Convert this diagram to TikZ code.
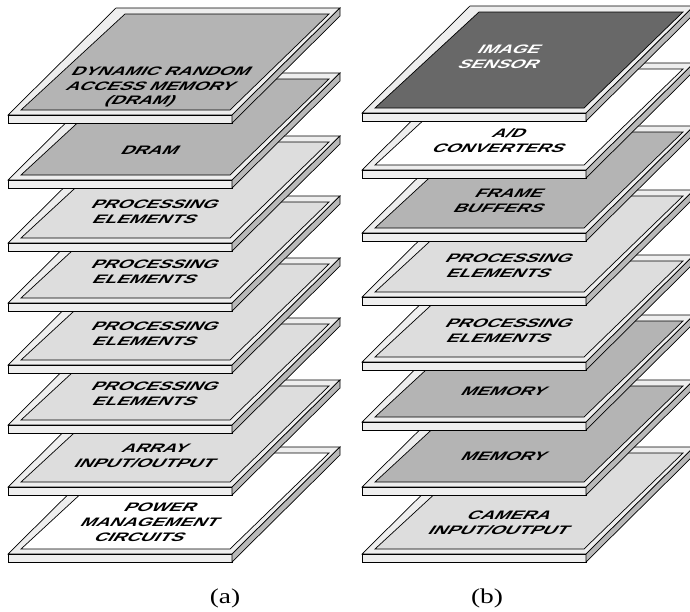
\documentclass[tikz,border=0pt]{standalone}
\usepackage{fontspec}
\usepackage{tikz}
\usepackage{xcolor}
\usetikzlibrary{positioning, calc}
\setmainfont{Liberation Serif}
\newfontfamily\platefont{Liberation Sans}
\definecolor{rimgray}{RGB}{238,238,238}
\definecolor{sidegray}{RGB}{185,185,185}
\definecolor{memgray}{RGB}{180,180,180}
\definecolor{pegray}{RGB}{221,221,221}
\definecolor{sensorgray}{RGB}{104,104,104}

\tikzset{
  platetext/.style={font=\platefont\bfseries\fontsize{14}{17}\selectfont,
    align=center, inner sep=0pt, xslant=0.7, xscale=1.15, yscale=0.75,
    transform shape},
  caption/.style={font=\fontsize{18}{20}\selectfont, xscale=1.3, transform shape}
}

% #1 x0, #2 y0 (front edge, px from top), #3 fill, #4 node name,
% #5 label, #6 label height above front edge, #7 text colour
\newcommand{\drawplate}[7]{%
  \draw[fill=rimgray] (#1,-#2) -- ({#1+224},-#2) -- ({#1+332},{-(#2-107)})
    -- ({#1+108},{-(#2-107)}) -- cycle;
  \draw[fill=#3] ({#1+13},{-(#2-5)}) -- ({#1+222},{-(#2-5)})
    -- ({#1+321},{-(#2-101)}) -- ({#1+117},{-(#2-101)}) -- cycle;
  \draw[fill=rimgray] (#1,-#2) rectangle ({#1+224},{-(#2+8)});
  \draw[fill=sidegray] ({#1+224},-#2) -- ({#1+332},{-(#2-107)})
    -- ({#1+332},{-(#2-99)}) -- ({#1+224},{-(#2+8)}) -- cycle;
  \node[platetext, text=#7] (#4) at ({#1+143},{-(#2-#6)}) {#5};
}

\begin{document}
\begin{tikzpicture}[x=0.03cm, y=0.03cm, line width=0.6pt]
    \useasboundingbox (0,0) rectangle (690,-612);

    % ---- STACK (a), bottom to top ----
    \drawplate{8}{554}{white}{a8}{POWER\\MANAGEMENT\\CIRCUITS}{32}{black}
    \drawplate{8}{487}{pegray}{a7}{ARRAY\\INPUT/OUTPUT}{31}{black}
    \drawplate{8}{425}{pegray}{a6}{PROCESSING\\ELEMENTS}{31}{black}
    \drawplate{8}{365}{pegray}{a5}{PROCESSING\\ELEMENTS}{31}{black}
    \drawplate{8}{303}{pegray}{a4}{PROCESSING\\ELEMENTS}{31}{black}
    \drawplate{8}{243}{pegray}{a3}{PROCESSING\\ELEMENTS}{31}{black}
    \drawplate{8}{180}{memgray}{a2}{DRAM}{30}{black}
    \drawplate{8}{115}{memgray}{a1}{DYNAMIC RANDOM\\ACCESS MEMORY\\(DRAM)}{28}{black}

    % ---- STACK (b), bottom to top ----
    \drawplate{362}{554}{pegray}{b8}{CAMERA\\INPUT/OUTPUT}{31}{black}
    \drawplate{362}{487}{memgray}{b7}{MEMORY}{31}{black}
    \drawplate{362}{422}{memgray}{b6}{MEMORY}{31}{black}
    \drawplate{362}{362}{pegray}{b5}{PROCESSING\\ELEMENTS}{31}{black}
    \drawplate{362}{297}{pegray}{b4}{PROCESSING\\ELEMENTS}{31}{black}
    \drawplate{362}{233}{memgray}{b3}{FRAME\\BUFFERS}{32}{black}
    \drawplate{362}{170}{white}{b2}{A/D\\CONVERTERS}{29}{black}
    \drawplate{362}{113}{sensorgray}{b1}{IMAGE\\SENSOR}{56}{white}

    % ---- CAPTIONS ----
    \node[caption] (capa) at (225,-598) {(a)};
    \node[caption] (capb) at (487,-598) {(b)};
\end{tikzpicture}
\end{document}
